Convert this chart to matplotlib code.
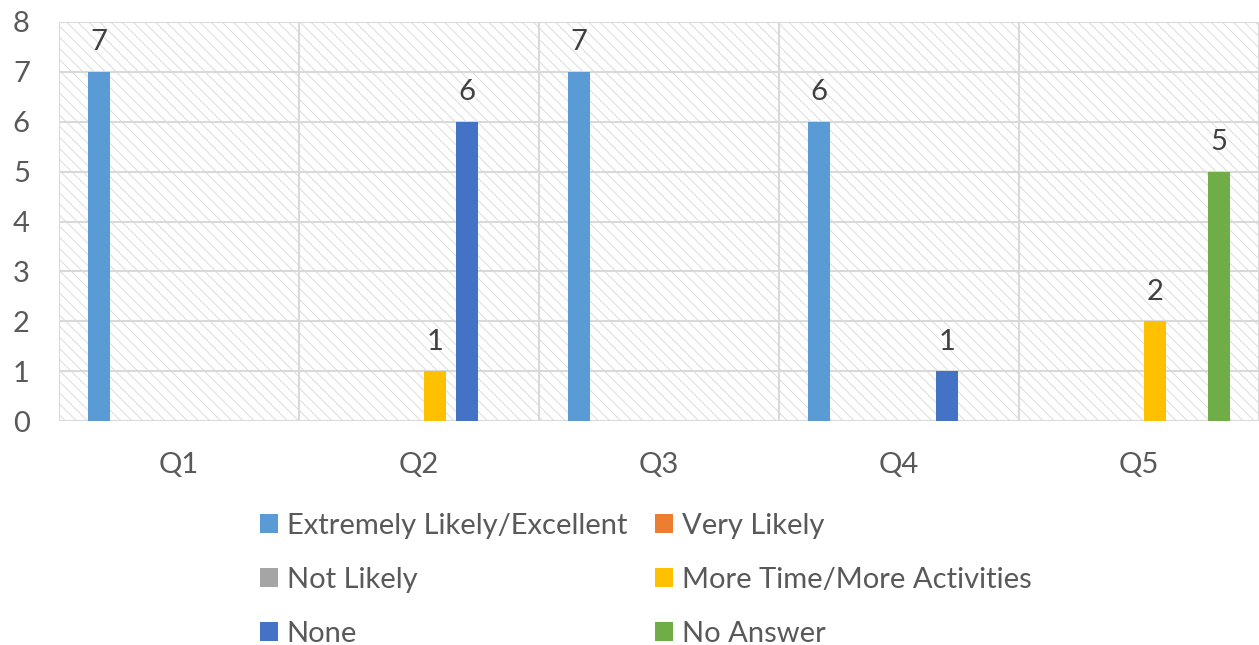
import numpy as np
import matplotlib.pyplot as plt
from matplotlib.patches import Rectangle

plt.rcParams['font.family'] = ['Lato', 'DejaVu Sans']
plt.rcParams['hatch.linewidth'] = 0.7

questions = ['Q1', 'Q2', 'Q3', 'Q4', 'Q5']
series = ['Extremely Likely/Excellent', 'Very Likely', 'Not Likely',
          'More Time/More Activities', 'None', 'No Answer']
extremely = [7, 0, 7, 6, 0]
very = [0, 0, 0, 0, 0]
not_likely = [0, 0, 0, 0, 0]
more_time = [0, 1, 0, 0, 2]
none = [0, 6, 0, 1, 0]
no_answer = [0, 0, 0, 0, 5]
colors = ['#5B9BD5', '#ED7D31', '#A5A5A5', '#FFC000', '#4472C4', '#70AD47']

values = [extremely, very, not_likely, more_time, none, no_answer]
fs = 21

fig = plt.figure(figsize=(12.59, 6.45), dpi=100)
ax = fig.add_axes([59 / 1259, 1 - 421 / 645, 1 - 59 / 1259, (421 - 22) / 645])

# hatched plot area background
bg = Rectangle((0, 0), 1, 1, transform=ax.transAxes, facecolor='white',
               edgecolor='#dcdcdc', linewidth=0, hatch='\\\\\\', zorder=0)
ax.add_patch(bg)

x = np.arange(len(questions))
slot = 32 / 240
width = 22 / 240
handles = []
for i, (name, vals, c) in enumerate(zip(series, values, colors)):
    pos = x + (i - 2.5) * slot
    b = ax.bar(pos, vals, width, color=c, label=name, zorder=3)
    handles.append(b)
    for px, v in zip(pos, vals):
        if v > 0:
            ax.text(px, v + 0.33, str(v), ha='center', va='bottom',
                    fontsize=fs, color='#404040', zorder=4)

ax.set_xlim(-0.5, 4.5)
ax.set_ylim(0, 8)
ax.set_yticks(range(0, 9))
ax.set_xticks(x)
ax.set_xticklabels(questions)
ax.set_xticks(np.arange(-0.5, 5, 1), minor=True)
ax.grid(axis='y', which='major', color='#d9d9d9', linewidth=1.5, zorder=1)
ax.grid(axis='x', which='minor', color='#d9d9d9', linewidth=1.5, zorder=1)
ax.grid(axis='x', which='major', visible=False)
ax.set_axisbelow(True)
for s in ax.spines.values():
    s.set_visible(False)
ax.tick_params(axis='both', which='both', length=0, labelsize=fs, colors='#595959')
ax.tick_params(axis='y', pad=21)
ax.tick_params(axis='x', pad=22)

order = [0, 2, 4, 1, 3, 5]
leg = fig.legend([handles[k] for k in order], [series[k] for k in order],
                 ncol=2, loc='upper left', bbox_to_anchor=(260 / 1259, 1 - 513 / 645),
                 frameon=False, fontsize=fs, handlelength=0.62, handleheight=0.62,
                 handletextpad=0.3, columnspacing=0.95, labelspacing=0.96,
                 borderaxespad=0, borderpad=0)
for t in leg.get_texts():
    t.set_color('#595959')

fig.savefig('out.png', dpi=100)
